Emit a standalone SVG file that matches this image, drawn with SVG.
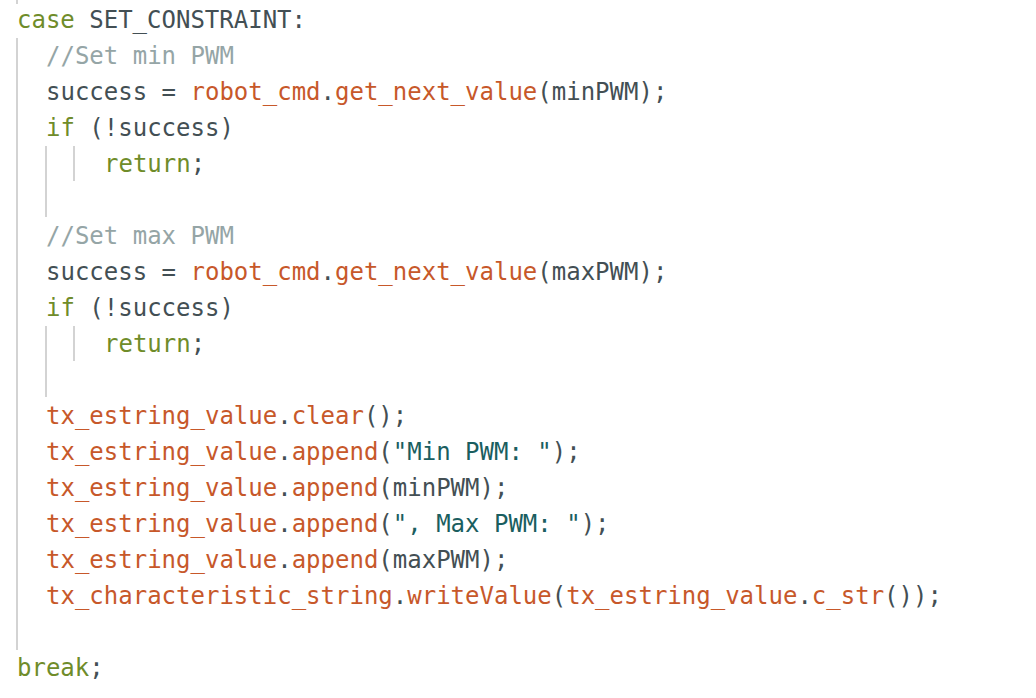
<svg xmlns="http://www.w3.org/2000/svg" width="1036" height="698" viewBox="0 0 1036 698">
<style>
text{font-family:"DejaVu Sans Mono","Liberation Mono",monospace;font-size:24px;fill:#434F54;white-space:pre}
.k{fill:#6F8C2A}
.f{fill:#C7582A}
.c{fill:#95A5A6}
.s{fill:#1A5E60}
.g{stroke:#D3D3D3;stroke-width:2;fill:none}
</style>
<rect width="1036" height="698" fill="#FFFFFF"/>
<g id="guides">
<line class="g" x1="17" y1="0" x2="17" y2="4"/>
<line class="g" x1="17" y1="38" x2="17" y2="650"/>
<line class="g" x1="46" y1="146" x2="46" y2="217"/>
<line class="g" x1="74" y1="146" x2="74" y2="181"/>
<line class="g" x1="46" y1="326" x2="46" y2="397"/>
<line class="g" x1="74" y1="326" x2="74" y2="361"/>
</g>
<g id="code" xml:space="preserve">
<text x="17" y="28"><tspan class="k">case</tspan> SET_CONSTRAINT:</text>
<text x="46" y="64" class="c">//Set min PWM</text>
<text x="46" y="100">success = <tspan class="f">robot_cmd</tspan>.<tspan class="f">get_next_value</tspan>(minPWM);</text>
<text x="46" y="136"><tspan class="k">if</tspan> (!success)</text>
<text x="104" y="172"><tspan class="k">return</tspan>;</text>
<text x="46" y="244" class="c">//Set max PWM</text>
<text x="46" y="280">success = <tspan class="f">robot_cmd</tspan>.<tspan class="f">get_next_value</tspan>(maxPWM);</text>
<text x="46" y="316"><tspan class="k">if</tspan> (!success)</text>
<text x="104" y="352"><tspan class="k">return</tspan>;</text>
<text x="46" y="424"><tspan class="f">tx_estring_value</tspan>.<tspan class="f">clear</tspan>();</text>
<text x="46" y="460"><tspan class="f">tx_estring_value</tspan>.<tspan class="f">append</tspan>(<tspan class="s">"Min PWM: "</tspan>);</text>
<text x="46" y="496"><tspan class="f">tx_estring_value</tspan>.<tspan class="f">append</tspan>(minPWM);</text>
<text x="46" y="532"><tspan class="f">tx_estring_value</tspan>.<tspan class="f">append</tspan>(<tspan class="s">", Max PWM: "</tspan>);</text>
<text x="46" y="568"><tspan class="f">tx_estring_value</tspan>.<tspan class="f">append</tspan>(maxPWM);</text>
<text x="46" y="604"><tspan class="f">tx_characteristic_string</tspan>.<tspan class="f">writeValue</tspan>(<tspan class="f">tx_estring_value</tspan>.<tspan class="f">c_str</tspan>());</text>
<text x="17" y="676"><tspan class="k">break</tspan>;</text>
</g>
</svg>
